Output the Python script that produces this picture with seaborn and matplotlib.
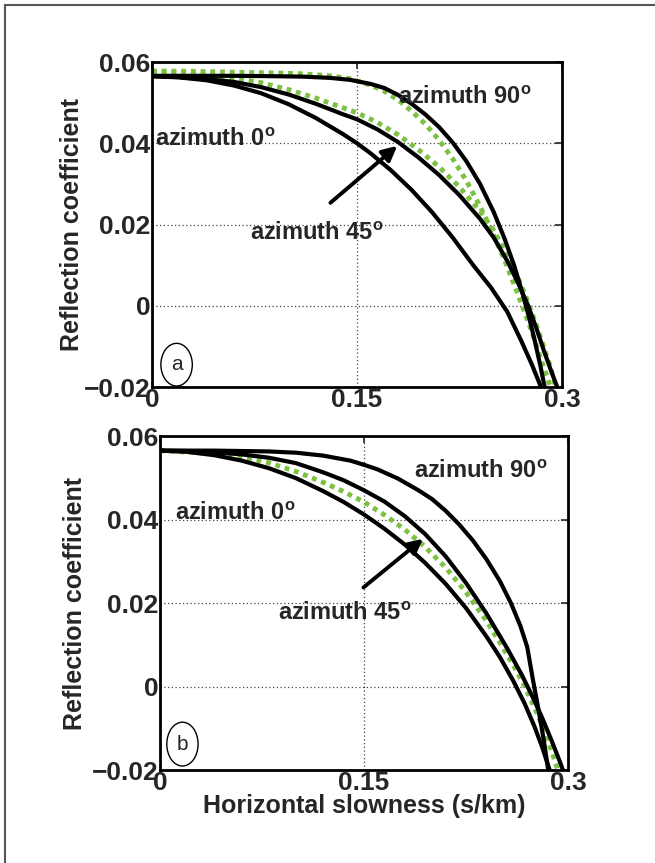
import numpy as np
import pandas as pd
import matplotlib
matplotlib.use("Agg")
import matplotlib.pyplot as plt
from matplotlib.patches import Ellipse
from matplotlib.lines import Line2D
import seaborn as sns

# --- Données (coefficient de réflexion vs lenteur horizontale) ---
# Panneau (a)
a_x_az0 = [0, 0.02, 0.04, 0.06, 0.08, 0.10, 0.12, 0.14, 0.15, 0.16, 0.175, 0.19, 0.205, 0.22, 0.235, 0.248, 0.26, 0.27, 0.278, 0.284, 0.2865]
a_y_az0 = [0.0565, 0.0562, 0.0555, 0.0542, 0.0523, 0.0496, 0.0462, 0.0422, 0.0400, 0.0375, 0.0333, 0.0285, 0.0230, 0.0168, 0.0100, 0.0045, -0.0015, -0.0085, -0.0145, -0.0195, -0.0220]
a_x_az45 = [0, 0.02, 0.04, 0.06, 0.08, 0.10, 0.12, 0.14, 0.15, 0.165, 0.18, 0.195, 0.21, 0.225, 0.24, 0.25, 0.26, 0.268, 0.275, 0.281, 0.287, 0.292, 0.297, 0.299]
a_y_az45 = [0.0565, 0.0563, 0.0558, 0.0551, 0.0538, 0.0520, 0.0497, 0.0471, 0.0459, 0.0434, 0.0403, 0.0365, 0.0322, 0.0272, 0.0214, 0.0168, 0.0110, 0.0055, 0.0002, -0.0053, -0.0113, -0.0160, -0.0205, -0.0220]
a_x_az90 = [0, 0.03, 0.06, 0.09, 0.11, 0.13, 0.145, 0.16, 0.17, 0.18, 0.19, 0.20, 0.21, 0.22, 0.23, 0.24, 0.25, 0.258, 0.265, 0.271, 0.276, 0.28, 0.284, 0.287, 0.2885]
a_y_az90 = [0.0566, 0.0566, 0.0566, 0.0565, 0.0564, 0.0561, 0.0556, 0.0546, 0.0536, 0.0519, 0.0497, 0.0471, 0.0440, 0.0402, 0.0356, 0.0300, 0.0231, 0.0165, 0.0099, 0.0032, -0.0030, -0.0085, -0.0145, -0.0195, -0.0220]
a_x_green1 = [0, 0.03, 0.06, 0.09, 0.11, 0.13, 0.145, 0.16, 0.17, 0.18, 0.19, 0.20, 0.21, 0.22, 0.23, 0.24, 0.25, 0.258, 0.265, 0.272, 0.278, 0.284, 0.289, 0.293]
a_y_green1 = [0.0578, 0.0577, 0.0575, 0.0573, 0.0571, 0.0566, 0.0559, 0.0543, 0.0528, 0.0507, 0.0479, 0.0447, 0.0408, 0.0362, 0.0308, 0.0245, 0.0174, 0.0112, 0.0052, -0.0010, -0.0065, -0.0125, -0.0175, -0.0215]
a_x_green2 = [0, 0.02, 0.04, 0.06, 0.08, 0.10, 0.12, 0.14, 0.15, 0.165, 0.18, 0.195, 0.21, 0.225, 0.24, 0.25, 0.26, 0.268, 0.275, 0.281, 0.287, 0.292, 0.296]
a_y_green2 = [0.0575, 0.0573, 0.0568, 0.0561, 0.0549, 0.0532, 0.0511, 0.0487, 0.0475, 0.0451, 0.0421, 0.0384, 0.0342, 0.0292, 0.0233, 0.0185, 0.0125, 0.0068, 0.0010, -0.0045, -0.0105, -0.0155, -0.0210]

# Panneau (b)
b_x_az0 = [0, 0.02, 0.04, 0.06, 0.08, 0.10, 0.12, 0.135, 0.15, 0.165, 0.18, 0.195, 0.21, 0.225, 0.24, 0.25, 0.26, 0.268, 0.275, 0.281, 0.286, 0.2885]
b_y_az0 = [0.0565, 0.0562, 0.0554, 0.0541, 0.0523, 0.0499, 0.0468, 0.0442, 0.0412, 0.0378, 0.0340, 0.0296, 0.0246, 0.0188, 0.0120, 0.0070, 0.0012, -0.0040, -0.0093, -0.0145, -0.0195, -0.0220]
b_x_az45 = [0, 0.02, 0.04, 0.06, 0.08, 0.10, 0.12, 0.135, 0.15, 0.165, 0.18, 0.195, 0.21, 0.225, 0.24, 0.255, 0.266, 0.274, 0.281, 0.288, 0.294, 0.2985]
b_y_az45 = [0.0565, 0.0564, 0.0561, 0.0556, 0.0548, 0.0535, 0.0513, 0.0494, 0.0470, 0.0443, 0.0408, 0.0365, 0.0312, 0.0248, 0.0175, 0.0093, 0.0028, -0.0025, -0.0075, -0.0130, -0.0180, -0.0220]
b_x_az90 = [0, 0.04, 0.08, 0.10, 0.12, 0.14, 0.15, 0.16, 0.175, 0.19, 0.20, 0.21, 0.22, 0.23, 0.24, 0.25, 0.258, 0.265, 0.27, 0.274, 0.278, 0.282, 0.285, 0.2865]
b_y_az90 = [0.0565, 0.0565, 0.0563, 0.0560, 0.0553, 0.0541, 0.0531, 0.0520, 0.0498, 0.0470, 0.0449, 0.0421, 0.0388, 0.0350, 0.0305, 0.0252, 0.0200, 0.0145, 0.0095, 0.0020, -0.0050, -0.0125, -0.0190, -0.0220]
b_x_green = [0, 0.04, 0.06, 0.08, 0.10, 0.12, 0.135, 0.15, 0.165, 0.18, 0.195, 0.21, 0.225, 0.24, 0.25, 0.26, 0.268, 0.276, 0.283, 0.289, 0.294]
b_y_green = [0.0565, 0.0558, 0.0550, 0.0536, 0.0515, 0.0489, 0.0467, 0.0442, 0.0411, 0.0376, 0.0334, 0.0285, 0.0226, 0.0157, 0.0105, 0.0050, 0.0002, -0.0055, -0.0110, -0.0165, -0.0215]

x_ticks = [0, 0.15, 0.3]
x_tick_labels = ["0", "0.15", "0.3"]
y_ticks = [-0.02, 0, 0.02, 0.04, 0.06]
y_tick_labels = ["\u22120.02", "0", "0.02", "0.04", "0.06"]

sns.set_style("white")
plt.rcParams["font.family"] = ["Liberation Sans", "DejaVu Sans"]
plt.rcParams["font.weight"] = "bold"
plt.rcParams["mathtext.fontset"] = "custom"
plt.rcParams["mathtext.rm"] = "Liberation Sans"
plt.rcParams["mathtext.bf"] = "Liberation Sans:bold"

GREEN = "#7cc142"
LW = 3.0

fig = plt.figure(figsize=(6.55, 8.63), dpi=100)
ax_a = fig.add_axes([152 / 655, 1 - 387 / 863, 410 / 655, 325 / 863])
ax_b = fig.add_axes([160 / 655, 1 - 770 / 863, 408 / 655, 334 / 863])


def draw_black(ax, x, y):
    sns.lineplot(x=x, y=y, ax=ax, color="black", lw=LW, zorder=3)


def draw_green(ax, x, y):
    sns.lineplot(x=x, y=y, ax=ax, color=GREEN, lw=3.5, zorder=2,
                 linestyle=(0, (1.0, 1.0)), dash_capstyle="butt")


draw_green(ax_a, a_x_green1, a_y_green1)
draw_green(ax_a, a_x_green2, a_y_green2)
draw_black(ax_a, a_x_az0, a_y_az0)
draw_black(ax_a, a_x_az45, a_y_az45)
draw_black(ax_a, a_x_az90, a_y_az90)

draw_green(ax_b, b_x_green, b_y_green)
draw_black(ax_b, b_x_az0, b_y_az0)
draw_black(ax_b, b_x_az45, b_y_az45)
draw_black(ax_b, b_x_az90, b_y_az90)

label_kw = dict(fontsize=17, fontweight="bold", va="center", ha="left", zorder=5)
sup = r"$^{\mathbf{o}}$"

# textes panneau (a)
ax_a.text(0.180, 0.0512, "azimuth 90" + sup, **label_kw)
ax_a.text(0.002, 0.0410, "azimuth 0" + sup, **label_kw)
ax_a.text(0.072, 0.0178, "azimuth 45" + sup, **label_kw)
ax_a.annotate("", xy=(0.181, 0.0398), xytext=(0.129, 0.0249),
              arrowprops=dict(arrowstyle="-|>", color="black", lw=2.8, mutation_scale=22))

# textes panneau (b)
ax_b.text(0.187, 0.0515, "azimuth 90" + sup, **label_kw)
ax_b.text(0.011, 0.0414, "azimuth 0" + sup, **label_kw)
ax_b.text(0.087, 0.0175, "azimuth 45" + sup, **label_kw)
ax_b.annotate("", xy=(0.195, 0.0358), xytext=(0.148, 0.0233),
              arrowprops=dict(arrowstyle="-|>", color="black", lw=2.8, mutation_scale=22))

for ax, letter, cx, cy, lx in [(ax_a, "a", 0.0180, -0.0145, -0.166),
                               (ax_b, "b", 0.0165, -0.0138, -0.179)]:
    ax.set_xlim(0, 0.3)
    ax.set_ylim(-0.02, 0.06)
    ax.set_xticks(x_ticks)
    ax.set_xticklabels(x_tick_labels)
    ax.set_yticks(y_ticks)
    ax.set_yticklabels(y_tick_labels)
    ax.tick_params(direction="in", length=5, width=1.2, labelsize=19,
                   top=True, right=True, pad=1)
    for lab in ax.get_xticklabels() + ax.get_yticklabels():
        lab.set_fontweight("bold")
    ax.grid(True, color="#444444", linestyle=(0, (1, 2)), lw=0.9)
    for sp in ax.spines.values():
        sp.set_linewidth(2.0)
        sp.set_color("black")
    ax.set_ylabel("Reflection coefficient", fontsize=18, fontweight="bold")
    ax.yaxis.set_label_coords(lx, 0.5)
    ax.set_xlabel("")
    ell = Ellipse((cx, cy), 0.023, 0.0105, facecolor="white", edgecolor="black", lw=1.0, zorder=4)
    ax.add_patch(ell)
    ax.text(cx, cy, letter, fontsize=15, fontweight="normal", ha="center", va="center",
            family="Liberation Sans", zorder=5)

ax_b.set_xlabel("Horizontal slowness (s/km)", fontsize=18, fontweight="bold")
ax_b.xaxis.set_label_coords(0.5, -0.073)

# cadre gris de la page
fig.add_artist(Line2D([5 / 655, 1], [1 - 5 / 863, 1 - 5 / 863], color="#555555", lw=1.5))
fig.add_artist(Line2D([5 / 655, 5 / 655], [0, 1 - 5 / 863], color="#555555", lw=1.5))

fig.savefig("out.png", dpi=100)
